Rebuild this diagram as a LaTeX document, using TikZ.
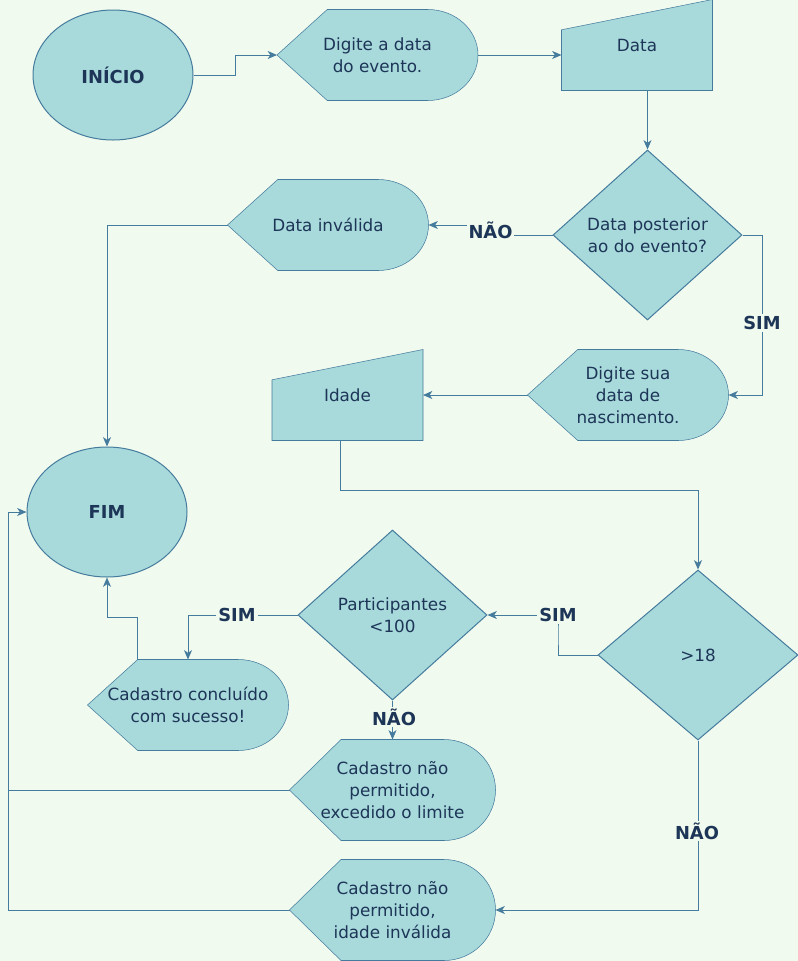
\documentclass[tikz,border=0pt]{standalone}
\usepackage{fontspec}
\setmainfont{DejaVu Sans}
\usetikzlibrary{shapes.geometric,arrows.meta,calc,backgrounds}

\definecolor{bgcol}{HTML}{F1FAEE}
\definecolor{shapefill}{HTML}{A8DADC}
\definecolor{shapeline}{HTML}{457B9D}
\definecolor{txtcol}{HTML}{1D3557}

\newcommand{\nfont}{\fontsize{12.6pt}{16.5pt}\selectfont}
\newcommand{\bfont}{\fontsize{13.4pt}{16.5pt}\selectfont\bfseries}

% display shape (pointed left, round right) around a named node
\newcommand{\dispshape}[1]{%
  \draw[shp] (#1.west) -- ($(#1.north west)!.25!(#1.north east)$)
    -- ($(#1.north west)!.75!(#1.north east)$)
    .. controls ($(#1.north west)!.888!(#1.north east)$) and ($(#1.east)!.552!(#1.north east)$) .. (#1.east)
    .. controls ($(#1.east)!.552!(#1.south east)$) and ($(#1.south west)!.888!(#1.south east)$) .. ($(#1.south west)!.75!(#1.south east)$)
    -- ($(#1.south west)!.25!(#1.south east)$) -- cycle;}
% manual input shape around a named node
\newcommand{\maninshape}[1]{%
  \draw[shp] (#1.south west) -- ($(#1.north west)!.333!(#1.south west)$) -- (#1.north east) -- (#1.south east) -- cycle;}

\tikzset{every picture/.style={line width=0.75pt}}
\tikzset{
  shp/.style={draw=shapeline, fill=shapefill},
  term/.style={ellipse, shp, minimum width=120pt, minimum height=97.5pt, font=\bfont},
  decis/.style={diamond, shp, minimum width=141.75pt, minimum height=127.5pt, align=center, inner sep=0pt},
  disp/.style={rectangle, minimum width=150pt, minimum height=67.5pt, align=center, inner sep=0pt},
  dispbig/.style={disp, minimum width=153.75pt, minimum height=75pt},
  manin/.style={rectangle, minimum width=112.5pt, minimum height=67.5pt, align=center, inner sep=0pt},
  flow/.style={draw=shapeline, -{Stealth[length=7pt,width=6pt,inset=2pt]}},
  link/.style={draw=shapeline},
  lbl/.style={fill=bgcol, font=\bfont, inner sep=1.5pt},
}

\begin{document}
\begin{tikzpicture}[
            x=0.75pt,
            y=0.75pt,
            yscale=-1,
            xscale=1,
            every node/.style={text=txtcol, font=\nfont},
            line width=0.75pt
        ]
            \useasboundingbox (0,0) rectangle (798,961);

            % nodes
            \node [term] (inicio) at (113,75) {INÍCIO};
            \node [disp] (digdata) at (377.5,55) {Digite a data\\do evento.};
            \node [manin] (data) at (637,45) {Data};
            \node [decis] (datapost) at (647.5,235) {Data posterior\\ao do evento?};
            \node [disp] (datainv) at (328,225) {Data inválida};
            \node [disp] (dignasc) at (628,395) {Digite sua\\data de\\nascimento.};
            \node [manin] (idade) at (347.5,395) {Idade};
            \node [decis, minimum width=150pt] (maior) at (698,655) {>18};
            \node [decis] (partic) at (392.5,615) {Participantes\\<100};
            \node [disp] (conclu) at (188,705) {Cadastro concluído\\com sucesso!};
            \node [term] (fim) at (107,512) {FIM};
            \node [dispbig] (exced) at (392.5,790) {Cadastro não\\permitido,\\excedido o limite};
            \node [dispbig] (idinv) at (392.5,910) {Cadastro não\\permitido,\\idade inválida};

            \begin{scope}[on background layer]
                \fill [bgcol] (0,0) rectangle (798,961);
                \dispshape{digdata}
                \dispshape{datainv}
                \dispshape{dignasc}
                \dispshape{conclu}
                \dispshape{exced}
                \dispshape{idinv}
                \maninshape{data}
                \maninshape{idade}
            \end{scope}

            % helper points
            \coordinate (nao1) at ($(datapost.west)!.5!(datainv.east)$);
            \coordinate (sim1) at ($(datapost.east)+(20,0)$);
            \coordinate (bend1) at (340,490);
            \coordinate (sim2) at (558,635);
            \coordinate (bend2) at (137,617);
            \coordinate (left1) at (8,790);

            % connectors
            \draw [flow] (inicio.east) -| ($(inicio.east)!.5!(digdata.west)$) |- (digdata.west);
            \draw [flow] (digdata.east) -- (digdata.east -| data.west);
            \draw [flow] (data.south -| datapost.north) -- (datapost.north);
            \draw [flow] (datapost.west) -| (nao1) |- (datainv.east);
            \draw [flow] (datainv.west) -| (fim.north);
            \draw [flow] (datapost.east) -- (sim1) |- (dignasc.east);
            \draw [flow] (dignasc.west) -- (idade.east);
            \draw [flow] (bend1 |- idade.south) -- (bend1) -| (maior.north);
            \draw [flow] (maior.west) -| (sim2) |- (partic.east);
            \draw [flow] (partic.west) -| (conclu.north);
            \draw [flow] (bend2 |- conclu.north) -- (bend2) -| (fim.south);
            \draw [flow] (partic.south) -- (exced.north);
            \draw [flow] (maior.south) |- (idinv.east);
            \draw [flow] (exced.west) -- (left1) |- (fim.west);
            \draw [link] (idinv.west) -| (left1);

            % labels
            \node [lbl] (lnao1) at (nao1) {NÃO};
            \node [lbl] (lsim1) at (762,323) {SIM};
            \node [lbl] (lsim2) at (sim2 |- partic.east) {SIM};
            \node [lbl] (lsim3) at (237,615) {SIM};
            \node [lbl] (lnao2) at (394,717) {NÃO};
            \node [lbl] (lnao3) at (697,831) {NÃO};
        \end{tikzpicture}
\end{document}
